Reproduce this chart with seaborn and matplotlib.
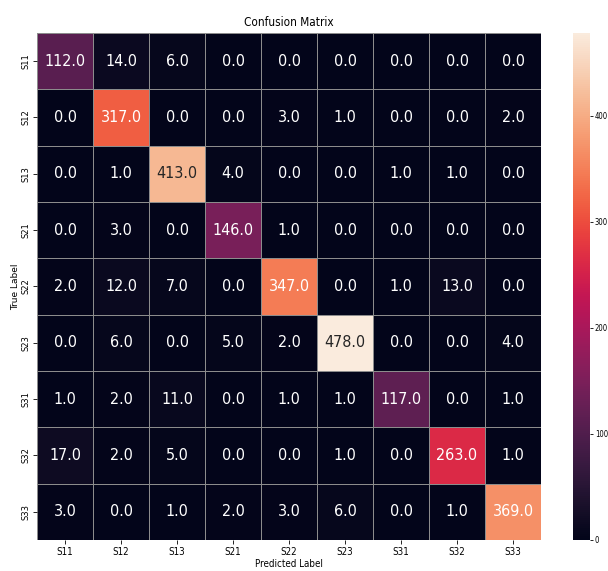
import numpy as np
import matplotlib
matplotlib.use("Agg")
import matplotlib.pyplot as plt
import seaborn as sns

labels = ["S11", "S12", "S13", "S21", "S22", "S23", "S31", "S32", "S33"]

row_s11 = [112, 14, 6, 0, 0, 0, 0, 0, 0]
row_s12 = [0, 317, 0, 0, 3, 1, 0, 0, 2]
row_s13 = [0, 1, 413, 4, 0, 0, 1, 1, 0]
row_s21 = [0, 3, 0, 146, 1, 0, 0, 0, 0]
row_s22 = [2, 12, 7, 0, 347, 0, 1, 13, 0]
row_s23 = [0, 6, 0, 5, 2, 478, 0, 0, 4]
row_s31 = [1, 2, 11, 0, 1, 1, 117, 0, 1]
row_s32 = [17, 2, 5, 0, 0, 1, 0, 263, 1]
row_s33 = [3, 0, 1, 2, 3, 6, 0, 1, 369]

cm = np.array([row_s11, row_s12, row_s13, row_s21, row_s22,
               row_s23, row_s31, row_s32, row_s33], dtype=float)

fig = plt.figure(figsize=(6.08, 5.71), dpi=100)
ax = fig.add_axes([0.0609, 0.0543, 0.829, 0.888])
cax = fig.add_axes([0.9424, 0.0543, 0.028, 0.888])

sns.heatmap(cm, ax=ax, cbar_ax=cax, cmap="rocket", annot=True, fmt=".1f",
            linewidths=0.6, linecolor="#8c8c8c",
            annot_kws={"fontsize": 11.5, "family": "DejaVu Sans", "stretch": "condensed"},
            xticklabels=labels, yticklabels=labels)

ax.set_title("Confusion Matrix", fontsize=8.5, stretch="condensed", pad=5)
ax.set_xlabel("Predicted Label", fontsize=7, stretch="condensed", labelpad=1.5)
ax.set_ylabel("True Label", fontsize=6.5, labelpad=1)
for t in ax.get_xticklabels():
    t.set_stretch("condensed")
    t.set_fontsize(7)
    t.set_rotation(0)
for t in ax.get_yticklabels():
    t.set_fontsize(6)
    t.set_rotation(90)
    t.set_va("center")
ax.tick_params(length=3, width=0.6, pad=2)

cax.set_yticks([0, 100, 200, 300, 400])
cax.tick_params(labelsize=5.5, length=2.5, width=0.6, pad=1)
for t in cax.get_yticklabels():
    t.set_stretch("condensed")

fig.savefig("out.png", dpi=100)
